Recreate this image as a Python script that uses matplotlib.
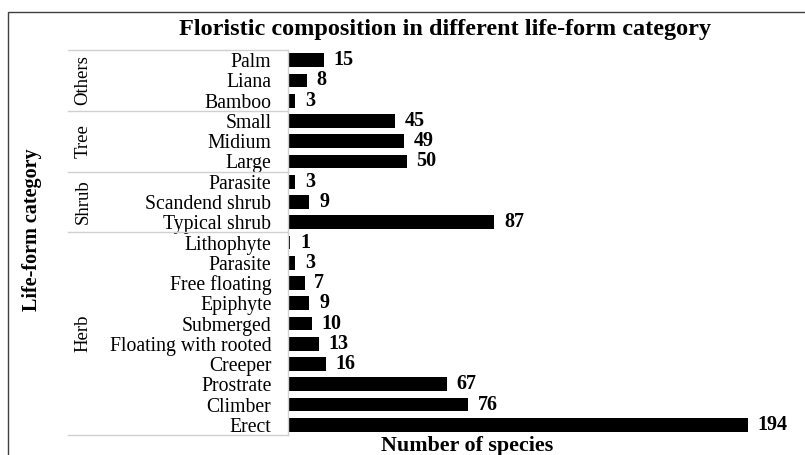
import matplotlib.pyplot as plt
from matplotlib.patches import Rectangle
import matplotlib.transforms as mtransforms

plt.rcParams['font.family'] = ['Liberation Serif', 'DejaVu Serif']

# rows listed top to bottom
groups = ["Others", "Tree", "Shrub", "Herb"]
group_items = [
    ["Palm", "Liana", "Bamboo"],
    ["Small", "Midium", "Large"],
    ["Parasite", "Scandend shrub", "Typical shrub"],
    ["Lithophyte", "Parasite", "Free floating", "Epiphyte", "Submerged",
     "Floating with rooted", "Creeper", "Prostrate", "Climber", "Erect"],
]
group_values = [
    [15, 8, 3],
    [45, 49, 50],
    [3, 9, 87],
    [1, 3, 7, 9, 10, 13, 16, 67, 76, 194],
]

labels = [lab for items in group_items for lab in items]
values = [v for vals in group_values for v in vals]
ypos = list(range(len(labels)))

W, H = 805, 455
fig = plt.figure(figsize=(W / 100, H / 100), dpi=100)
ax = fig.add_axes([288 / W, 1 - 435 / H, 510 / W, 385 / H])

ax.barh(ypos, values, height=0.68, color="black")
ax.set_ylim(len(labels) - 0.5, -0.5)
ax.set_xlim(0, 510 / 2.371)

for y, v in zip(ypos, values):
    ax.annotate(str(v), (v, y), xytext=(7, 0), textcoords="offset points",
                va="center", ha="left", fontsize=14.5, fontweight="bold")

ax.set_yticks(ypos)
ax.set_yticklabels(labels, fontsize=14.2)
ax.tick_params(axis="y", length=0, pad=12)
ax.set_xticks([])
for s in ax.spines.values():
    s.set_visible(False)

# hierarchical label frame
trans = mtransforms.blended_transform_factory(ax.transAxes, ax.transData)
x0 = (68 - 288) / 510
edge = -0.5
for items, name in zip(group_items, groups):
    ax.plot([x0, 0], [edge, edge], color="#d0d0d0", lw=1, transform=trans, clip_on=False)
    mid = edge + len(items) / 2
    ax.text((83 - 288) / 510, mid, name, rotation=90, ha="center", va="center",
            fontsize=13.5, transform=trans)
    edge += len(items)
ax.plot([x0, 0], [edge, edge], color="#d0d0d0", lw=1, transform=trans, clip_on=False)
ax.plot([0, 0], [-0.5, edge], color="#d0d0d0", lw=1, transform=trans, clip_on=False)

fig.text(445 / W, 1 - 30 / H, "Floristic composition in different life-form category",
         ha="center", va="center", fontsize=17.5, fontweight="bold")
fig.text(467 / W, 1 - 446 / H, "Number of species", ha="center", va="center",
         fontsize=15.8, fontweight="bold")
fig.text(32 / W, 1 - 230 / H, "Life-form category", ha="center", va="center",
         rotation=90, fontsize=14.5, fontweight="bold")

# outer chart frame (cropped at right and bottom)
fig.patches.append(Rectangle((8 / W, -0.1), 1.2, 1.1 - 12 / H, transform=fig.transFigure,
                             fill=False, edgecolor="#404040", lw=1))

fig.savefig("out.png", dpi=100)
